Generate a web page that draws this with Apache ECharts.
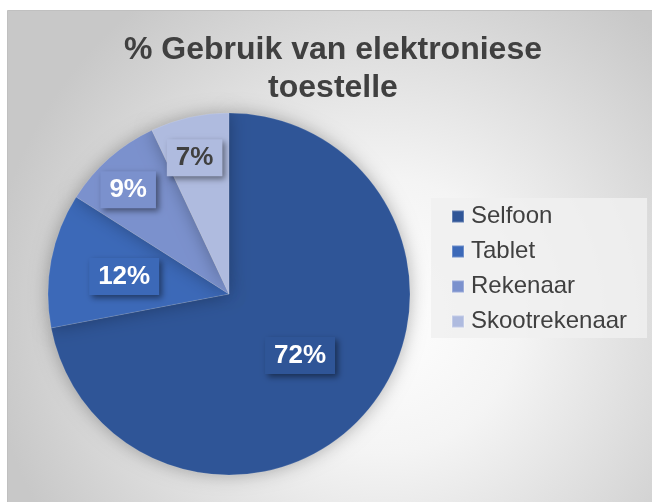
<!DOCTYPE html>
<html>
<head>
<meta charset="utf-8">
<title>% Gebruik van elektroniese toestelle</title>
<script src="https://cdn.jsdelivr.net/npm/echarts@6/dist/echarts.min.js"></script>
<style>
  html, body { margin: 0; padding: 0; background: #fff; }
  #Chart { width: 652px; height: 502px; }
</style>
</head>
<body>
<div id="Chart"></div>
<script>
// data
const categories = ["Selfoon", "Tablet", "Rekenaar", "Skootrekenaar"];
const values = [72, 12, 9, 7];
const colors = ["#2F5597", "#3C69B8", "#7B91CD", "#AFBBDF"];
const labelColors = ["#ffffff", "#ffffff", "#ffffff", "#404040"];
// label shift from the default inside spot
const labelShift = [[-1, 2], [-13, 0], [-39, -34], [-14, -45]];

const chart = echarts.init(document.getElementById("Chart"));

const pieData = categories.map(function (name, i) {
  return {
    name: name,
    value: values[i],
    itemStyle: { color: colors[i] },
    label: { color: labelColors[i], backgroundColor: colors[i] }
  };
});

const option = {
  animation: false,
  textStyle: { fontFamily: "Liberation Sans, Arial, sans-serif" },
  graphic: [
    {
      type: "rect",
      left: 7,
      top: 10,
      shape: { width: 645, height: 492 },
      style: {
        fill: {
          type: "radial",
          x: 0.58,
          y: 0.62,
          r: 0.8,
          colorStops: [
            { offset: 0, color: "#ffffff" },
            { offset: 0.35, color: "#f4f4f4" },
            { offset: 1, color: "#c8c8c8" }
          ]
        },
        stroke: "#c0c0c0",
        lineWidth: 1
      },
      z: -10
    }
  ],
  title: {
    text: "% Gebruik van elektroniese\ntoestelle",
    left: 333,
    top: 31,
    textAlign: "center",
    padding: 0,
    textStyle: {
      fontSize: 32,
      fontWeight: "bold",
      lineHeight: 38,
      color: "#404040",
      fontFamily: "Liberation Sans, Arial, sans-serif"
    }
  },
  legend: {
    orient: "vertical",
    left: 431,
    top: 198,
    data: categories,
    icon: "rect",
    itemWidth: 12,
    itemHeight: 12,
    itemGap: 10,
    padding: [6, 20, 4, 20],
    backgroundColor: "rgba(240,240,240,0.85)",
    textStyle: {
      fontSize: 24,
      lineHeight: 25,
      color: "#404040",
      padding: [0, 0, 0, 2]
    }
  },
  series: [
    {
      type: "pie",
      center: [229, 294],
      radius: 181,
      startAngle: 90,
      clockwise: true,
      silent: true,
      data: pieData,
      itemStyle: {
        borderColor: "rgba(255,255,255,0.25)",
        borderWidth: 0.5,
        shadowBlur: 18,
        shadowColor: "rgba(0,0,0,0.3)"
      },
      label: {
        show: true,
        position: "inside",
        formatter: "{d}%",
        fontSize: 26,
        fontWeight: "bold",
        lineHeight: 27,
        padding: [5, 9, 5, 9],
        shadowBlur: 6,
        shadowOffsetX: 3,
        shadowOffsetY: 3,
        shadowColor: "rgba(0,0,0,0.45)"
      },
      labelLine: { show: false },
      labelLayout: function (params) {
        const s = labelShift[params.dataIndex];
        return { dx: s[0], dy: s[1] };
      }
    }
  ]
};

chart.setOption(option);
</script>
</body>
</html>
